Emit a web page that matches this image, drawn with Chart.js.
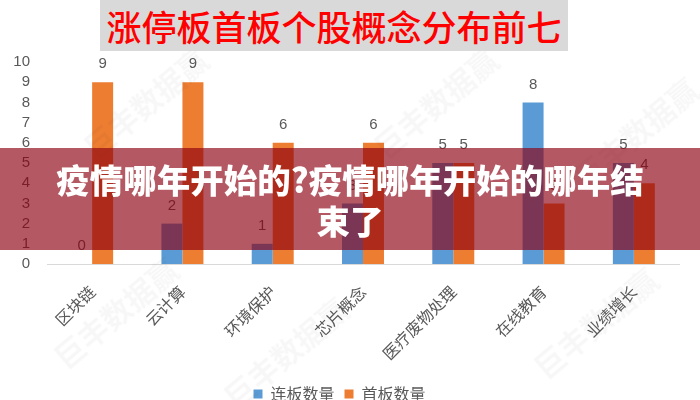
<!DOCTYPE html>
<html>
<head>
<meta charset="utf-8">
<script src="https://cdn.jsdelivr.net/npm/chart.js@4.4.0/dist/chart.umd.min.js"></script>
<style>
  html, body { margin: 0; padding: 0; background: #fff; }
  #wrap { position: relative; width: 700px; height: 400px; overflow: hidden; background: #fff; }
  #chartBox { position: absolute; left: 0; top: 0; width: 700px; height: 400px; }
  #title {
    position: absolute; left: 100px; top: 0; width: 468px; height: 51px;
    background: #d9d9d9; color: #ff0000;
    font-family: "Noto Sans CJK SC", sans-serif; font-weight: 500; font-size: 35px;
    line-height: 51px; text-align: center;
  }
  #banner {
    position: absolute; left: 0; top: 148px; width: 700px; height: 102px;
    background: rgba(140, 0, 15, 0.65); color: #fff;
    font-family: "Noto Sans CJK SC", sans-serif; font-weight: 900; font-size: 33.5px;
    line-height: 41px; text-align: center; padding-top: 10px; box-sizing: border-box;
  }
  .wm {
    position: absolute; color: rgba(0,0,0,0.03);
    font-family: "Noto Sans CJK SC", sans-serif; font-weight: 700; font-size: 30px;
    transform: rotate(-40deg); white-space: nowrap; transform-origin: center;
  }
</style>
</head>
<body>
<div id="wrap">
  <div id="chartBox"><canvas id="c" width="700" height="400"></canvas></div>
  <div class="wm" style="left:70px;top:80px;">巨丰数据赢</div>
  <div class="wm" style="left:360px;top:80px;">巨丰数据赢</div>
  <div class="wm" style="left:560px;top:110px;">巨丰数据赢</div>
  <div class="wm" style="left:40px;top:290px;">巨丰数据赢</div>
  <div class="wm" style="left:210px;top:330px;">巨丰数据赢</div>
  <div class="wm" style="left:520px;top:300px;">巨丰数据赢</div>
  <div id="title">涨停板首板个股概念分布前七</div>
  <div id="banner">疫情哪年开始的?疫情哪年开始的哪年结<br>束了</div>
</div>
<script>
const categories = ["区块链", "云计算", "环境保护", "芯片概念", "医疗废物处理", "在线教育", "业绩增长"];
const seriesNames = ["连板数量", "首板数量"];
const lianban = [0, 2, 1, 3, 5, 8, 5];
const shouban = [9, 9, 6, 6, 5, 3, 4];
const yTicks = [0, 1, 2, 3, 4, 5, 6, 7, 8, 9, 10];

const valueLabels = {
  id: 'valueLabels',
  afterDatasetsDraw(chart) {
    const ctx = chart.ctx;
    ctx.save();
    ctx.font = '15px "Liberation Sans", "DejaVu Sans", sans-serif';
    ctx.fillStyle = '#595959';
    ctx.textAlign = 'center';
    ctx.textBaseline = 'middle';
    chart.data.datasets.forEach((ds, i) => {
      const meta = chart.getDatasetMeta(i);
      meta.data.forEach((bar, j) => {
        ctx.fillText(String(ds.data[j]), bar.x, bar.y - 18);
      });
    });
    ctx.restore();
  }
};

new Chart(document.getElementById('c'), {
  type: 'bar',
  data: {
    labels: categories,
    datasets: [
      { label: seriesNames[0], data: lianban, backgroundColor: '#5b9bd5', categoryPercentage: 0.465, barPercentage: 1.0 },
      { label: seriesNames[1], data: shouban, backgroundColor: '#ed7d31', categoryPercentage: 0.465, barPercentage: 1.0 }
    ]
  },
  options: {
    responsive: false,
    animation: false,
    devicePixelRatio: 1,
    layout: { padding: { top: 62, right: 21, left: 0, bottom: -12 } },
    plugins: {
      legend: {
        position: 'bottom',
        labels: {
          boxWidth: 9, boxHeight: 9, padding: 10,
          color: '#595959',
          font: { size: 16, family: '"Noto Sans CJK SC", sans-serif' }
        }
      },
      tooltip: { enabled: false },
      title: { display: false }
    },
    scales: {
      x: {
        grid: { display: false },
        border: { display: true, color: '#d9d9d9', width: 1 },
        ticks: {
          maxRotation: 45, minRotation: 45, padding: 10,
          color: '#595959',
          font: { size: 16, family: '"Noto Sans CJK SC", sans-serif' }
        },
        afterFit(scale) { scale.height = 112; }
      },
      y: {
        min: 0, max: 10,
        grid: { display: false },
        border: { display: false },
        ticks: {
          stepSize: 1, padding: 9, autoSkip: false,
          color: '#595959',
          font: { size: 15, family: '"Liberation Sans", "DejaVu Sans", sans-serif' },
          callback: (v) => yTicks.includes(v) ? String(v) : ''
        },
        afterFit(scale) { scale.width = 47; }
      }
    }
  },
  plugins: [valueLabels]
});
</script>
</body>
</html>
